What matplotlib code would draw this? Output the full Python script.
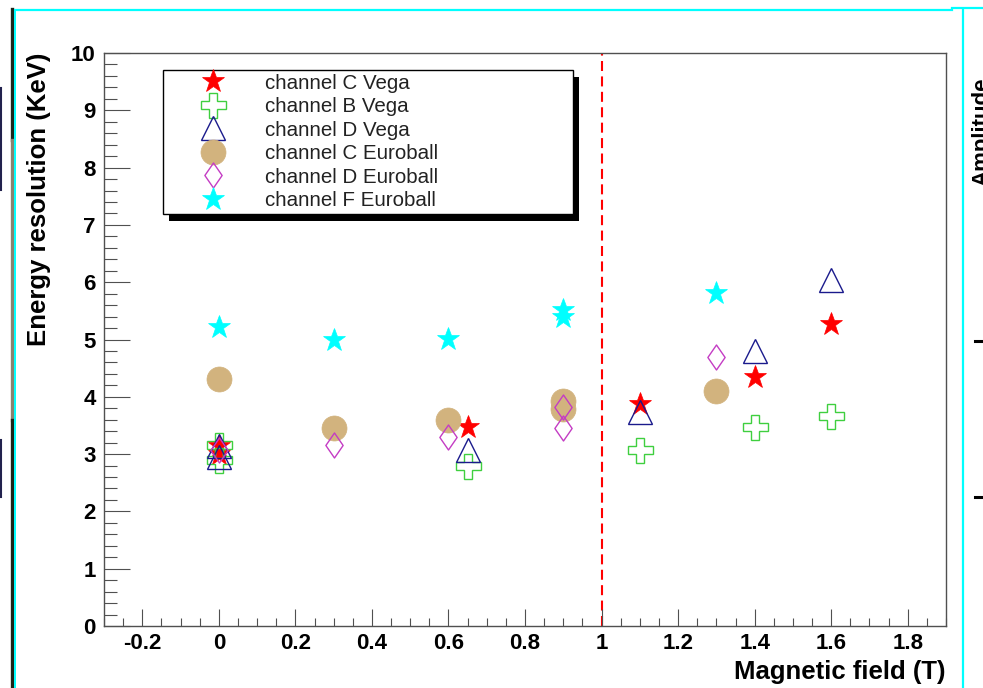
import matplotlib
matplotlib.use("Agg")
import matplotlib.pyplot as plt
from matplotlib.lines import Line2D
from matplotlib.patches import Rectangle
from matplotlib.path import Path
from matplotlib.ticker import MultipleLocator, FuncFormatter

plt.rcParams["font.family"] = ["Liberation Sans", "DejaVu Sans"]

c_vega_x = [0, 0, 0.65, 1.1, 1.4, 1.6]
c_vega_y = [3.15, 3.0, 3.47, 3.87, 4.35, 5.27]

b_vega_x = [0, 0, 0.65, 1.1, 1.4, 1.6]
b_vega_y = [3.16, 2.9, 2.79, 3.07, 3.47, 3.67]

d_vega_x = [0, 0, 0.65, 1.1, 1.4, 1.6]
d_vega_y = [3.15, 2.95, 3.07, 3.73, 4.8, 6.04]

c_euro_x = [0, 0.3, 0.6, 0.9, 0.9, 1.3]
c_euro_y = [4.31, 3.46, 3.6, 3.93, 3.79, 4.1]

d_euro_x = [0, 0.3, 0.6, 0.9, 0.9, 1.3]
d_euro_y = [3.07, 3.16, 3.3, 3.82, 3.46, 4.69]

f_euro_x = [0, 0.3, 0.6, 0.9, 0.9, 1.3]
f_euro_y = [5.22, 4.99, 5.01, 5.52, 5.4, 5.81]

labels = [
    "channel C Vega",
    "channel B Vega",
    "channel D Vega",
    "channel C Euroball",
    "channel D Euroball",
    "channel F Euroball",
]

W, H = 983, 688
fig = plt.figure(figsize=(W / 100, H / 100), dpi=100)
fig.patch.set_facecolor("white")
ax = fig.add_axes([104 / W, 62 / H, 842 / W, 573 / H])

# narrow diamond like the ROOT open diamond
diamond = Path([(0, 1), (0.69, 0), (0, -1), (-0.69, 0), (0, 1)], closed=True)

ax.plot(c_vega_x, c_vega_y, ls="none", marker="*", ms=17, mfc="#ff0000",
        mec="#ff0000", mew=0.5, label=labels[0])
ax.plot(b_vega_x, b_vega_y, ls="none", marker="P", ms=18, mfc="none",
        mec="#3fcf3f", mew=1.0, label=labels[1])
ax.plot(d_vega_x, d_vega_y, ls="none", marker="^", ms=17, mfc="none",
        mec="#1a1a8c", mew=1.0, label=labels[2])
ax.plot(c_euro_x, c_euro_y, ls="none", marker="o", ms=18, mfc="#d2b37e",
        mec="#d2b37e", mew=0.5, label=labels[3])
ax.plot(d_euro_x, d_euro_y, ls="none", marker=diamond, ms=18, mfc="none",
        mec="#c43cc4", mew=1.0, label=labels[4])
ax.plot(f_euro_x, f_euro_y, ls="none", marker="*", ms=17, mfc="#00ffff",
        mec="#00ffff", mew=0.5, label=labels[5])

ax.axvline(1.0, color="#ff0000", lw=1.5, ls=(0, (4.8, 2.6)), zorder=1)

ax.set_xlim(-0.3, 1.9)
ax.set_ylim(0, 10)

ax.xaxis.set_major_locator(MultipleLocator(0.2))
ax.xaxis.set_minor_locator(MultipleLocator(0.05))
ax.yaxis.set_major_locator(MultipleLocator(1))
ax.yaxis.set_minor_locator(MultipleLocator(0.2))
ax.xaxis.set_major_formatter(FuncFormatter(lambda v, p: "%g" % round(v, 3)))

frame_col = "#505050"
for s in ax.spines.values():
    s.set_color(frame_col)
    s.set_linewidth(1.0)
ax.tick_params(axis="x", which="major", direction="in", length=12.2, width=0.8,
               color=frame_col, pad=5, labelsize=16)
ax.tick_params(axis="x", which="minor", direction="in", length=5.8, width=0.8,
               color=frame_col)
ax.tick_params(axis="y", which="major", direction="in", length=18.7, width=0.8,
               color=frame_col, pad=6, labelsize=16)
ax.tick_params(axis="y", which="minor", direction="in", length=9.4, width=0.8,
               color=frame_col)
for t in ax.get_xticklabels() + ax.get_yticklabels():
    t.set_fontweight("bold")

ax.set_xlabel("Magnetic field (T)", fontsize=18.5, fontweight="bold",
              loc="right", labelpad=4)
ax.set_ylabel("Energy resolution (KeV)", fontsize=18.5, fontweight="bold",
              loc="top", labelpad=14)

leg = ax.legend(loc="upper left", bbox_to_anchor=(0.0701, 0.5, 0.487, 0.4703),
                mode="expand", borderaxespad=0, fancybox=False, framealpha=1,
                edgecolor="black", fontsize=14.8, numpoints=1,
                borderpad=0.17, labelspacing=0.22, handlelength=4.54,
                handletextpad=0.26)
leg.get_frame().set_linewidth(1.0)
for t in leg.get_texts():
    t.set_color("#222222")

# black drop shadow of the legend box, offset right/down
fig.canvas.draw()
bb = leg.get_window_extent()
inv = ax.transAxes.inverted()
(x0, y0), (x1, y1) = inv.transform([[bb.x0, bb.y0], [bb.x1, bb.y1]])
ax.add_patch(Rectangle((x0 + 6 / 842, y0 - 7 / 573), x1 - x0, y1 - y0,
                       transform=ax.transAxes, fc="black", ec="none",
                       zorder=4.9, clip_on=False))

# screenshot surroundings
def px(x, y):
    return x / W, 1 - y / H

def seg(x_a, y_a, x_b, y_b, **kw):
    (u0, v0), (u1, v1) = px(x_a, y_a), px(x_b, y_b)
    fig.add_artist(Line2D([u0, u1], [v0, v1], transform=fig.transFigure, **kw))

seg(13, 10, 952, 10, color="#00ffff", lw=1.6)
seg(952, 8, 983, 8, color="#00ffff", lw=1.6)
seg(963, 9, 963, 688, color="#00ffff", lw=1.6)
seg(11.5, 9, 11.5, 140, color="#1c261c", lw=2.4)
seg(11.5, 140, 11.5, 420, color="#8a8270", lw=2.4)
seg(11.5, 420, 11.5, 688, color="#1e2419", lw=2.4)
seg(14.5, 10, 14.5, 688, color="#00ffff", lw=1.4)
seg(0.8, 88, 0.8, 190, color="#22224e", lw=1.5)
seg(0.8, 440, 0.8, 497, color="#22224e", lw=1.5)
seg(975, 341, 982, 341, color="black", lw=2.2)
seg(975, 497, 982, 497, color="black", lw=2.2)

# partial axis title of a neighbouring pad, cut by the screenshot edge
fig.text(*px(971, 77), "Amplitude", rotation=90, ha="left", va="top",
         fontsize=16, fontweight="bold", color="black")

fig.savefig("out.png", dpi=100)
